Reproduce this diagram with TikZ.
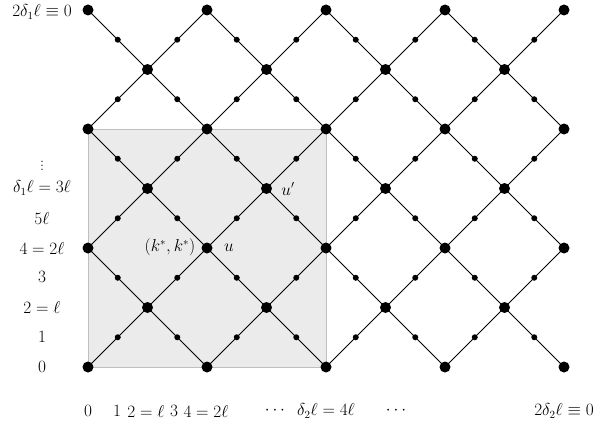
\documentclass[tikz,border=0pt]{standalone}
\begin{document}
\begin{tikzpicture}[x=1pt,y=-1pt,
  lbl/.style={font=\fontsize{16}{19}\selectfont, inner sep=0pt},
  bigdot/.style={circle, fill=black, inner sep=0pt, minimum size=11pt},
  smalldot/.style={circle, fill=black, inner sep=0pt, minimum size=6pt},
  edge/.style={line width=0.8pt, black}]
\useasboundingbox (0,0) rectangle (595,428);
\begin{scope}[shift={(88,367)}, x=59.5pt, y=59.5pt]
  \fill[fill=black!8, draw=black!25, line width=0.8pt] (0,0) rectangle (4,4);
  % big dot positions as coordinates
  \foreach \i in {0,...,8}{
    \foreach \j in {0,...,6}{
      \pgfmathtruncatemacro{\p}{mod(\i+\j,2)}
      \ifnum\p=0 \coordinate (b-\i-\j) at (\i,\j); \fi
    }
  }
  % up-right diagonals
  \draw[edge] (b-0-4) -- (b-2-6);
  \draw[edge] (b-0-2) -- (b-4-6);
  \draw[edge] (b-0-0) -- (b-6-6);
  \draw[edge] (b-2-0) -- (b-8-6);
  \draw[edge] (b-4-0) -- (b-8-4);
  \draw[edge] (b-6-0) -- (b-8-2);
  % down-right diagonals
  \draw[edge] (b-0-2) -- (b-2-0);
  \draw[edge] (b-0-4) -- (b-4-0);
  \draw[edge] (b-0-6) -- (b-6-0);
  \draw[edge] (b-2-6) -- (b-8-0);
  \draw[edge] (b-4-6) -- (b-8-2);
  \draw[edge] (b-6-6) -- (b-8-4);
  % dots
  \foreach \i in {0,...,8}{
    \foreach \j in {0,...,6}{
      \pgfmathtruncatemacro{\p}{mod(\i+\j,2)}
      \ifnum\p=0 \node[bigdot] (d-\i-\j) at (b-\i-\j) {}; \fi
    }
  }
  \foreach \i in {0,...,7}{
    \foreach \j in {0,...,5}{
      \node[smalldot] (s-\i-\j) at (\i+0.5,\j+0.5) {};
    }
  }
\end{scope}
% inner labels
\node[lbl] (kk) at (170,247) {$(k^*,k^*)$};
\node[lbl] (u) at (229,248) {$u$};
\node[lbl] (up) at (288,189) {$u'$};
% left labels
\node[lbl] (l6) at (42,12) {$2\delta_1\ell\equiv 0$};
\node[lbl, anchor=south] (lv) at (42,171) {$\vdots$};
\node[lbl] (l3) at (42,188) {$\delta_1\ell=3\ell$};
\node[lbl] (l5) at (42,218) {$5\ell$};
\node[lbl] (l4) at (42,248) {$4=2\ell$};
\node[lbl] (l3b) at (42,277) {$3$};
\node[lbl] (l2) at (42,307) {$2=\ell$};
\node[lbl] (l1) at (42,337) {$1$};
\node[lbl] (l0) at (42,367) {$0$};
% bottom labels
\node[lbl] (x0) at (88,411) {$0$};
\node[lbl] (x1) at (117,411) {$1$};
\node[lbl] (x2) at (146,411) {$2=\ell$};
\node[lbl] (x3) at (174,411) {$3$};
\node[lbl] (x4) at (206,411) {$4=2\ell$};
\node[lbl] (xd1) at (275,411) {$\cdots$};
\node[lbl] (x8) at (326,411) {$\delta_2\ell=4\ell$};
\node[lbl] (xd2) at (396,411) {$\cdots$};
\node[lbl] (x16) at (564,411) {$2\delta_2\ell\equiv 0$};
\end{tikzpicture}
\end{document}
